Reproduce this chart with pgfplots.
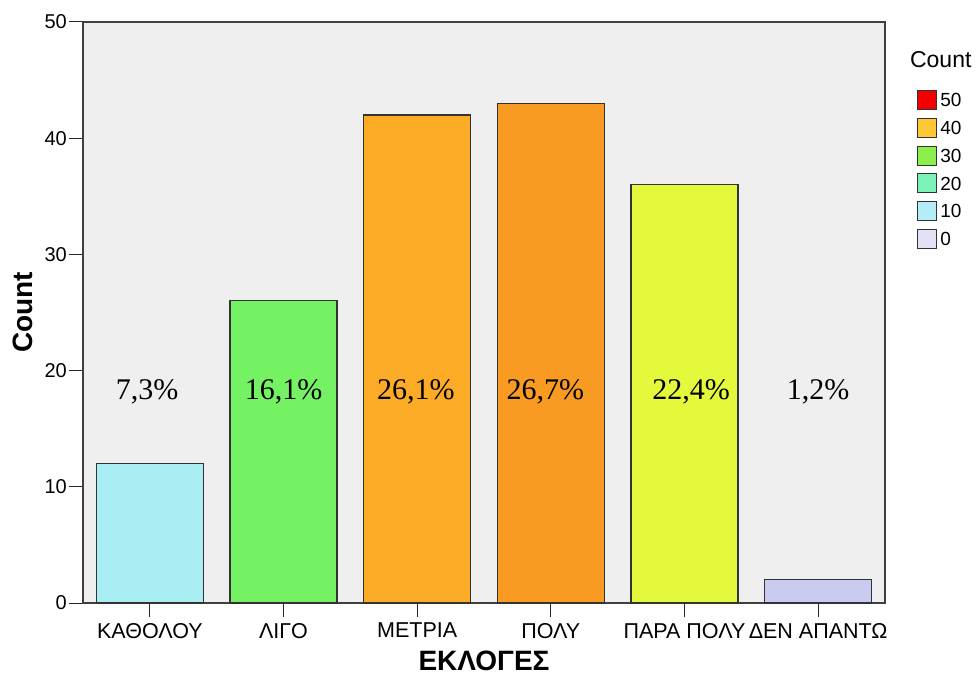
\documentclass[border=0pt]{standalone}
\usepackage{fontspec}
\setmainfont{Liberation Sans}
\newfontfamily\seriffont{Liberation Serif}
\usepackage{pgfplots}
\pgfplotsset{compat=1.18}
\definecolor{bgc}{HTML}{EFEFEF}
\definecolor{cA}{HTML}{A8EEF3}
\definecolor{cB}{HTML}{74F264}
\definecolor{cC}{HTML}{FBAB26}
\definecolor{cD}{HTML}{F99A22}
\definecolor{cE}{HTML}{E4F83C}
\definecolor{cF}{HTML}{C9CCF0}
\definecolor{l50}{HTML}{F20000}
\definecolor{l40}{HTML}{FFC832}
\definecolor{l30}{HTML}{8CF04C}
\definecolor{l20}{HTML}{7CF2B8}
\definecolor{l10}{HTML}{B4ECF8}
\definecolor{l0}{HTML}{E2E2F6}
\begin{document}
\begin{tikzpicture}
\begin{axis}[
  scale only axis, width=802bp, height=581bp,
  xmin=-0.5, xmax=5.5, ymin=0, ymax=50,
  axis background/.style={fill=bgc},
  xtick={0,...,5},
  xticklabels={ΚΑΘΟΛΟΥ,ΛΙΓΟ,ΜΕΤΡΙΑ,ΠΟΛΥ,ΠΑΡΑ ΠΟΛΥ,ΔΕΝ ΑΠΑΝΤΩ},
  ytick={0,10,...,50},
  tick align=outside, tick pos=left, major tick length=14bp,
  tick style={black!85, line width=1bp},
  axis line style={line width=1.5bp, black!75},
  yticklabel style={inner sep=2bp, font=\fontsize{20bp}{24bp}\selectfont},
  xticklabel style={inner sep=6bp, font=\fontsize{21.5bp}{24bp}\selectfont},
  /pgf/number format/assume math mode=true,
  ylabel={Count}, xlabel={ΕΚΛΟΓΕΣ},
  label style={font=\bfseries\fontsize{28bp}{32bp}\selectfont},
  xlabel style={at={(axis description cs:0.5,-0.1)}, anchor=center},
  ylabel style={at={(axis description cs:-0.075,0.5)}, anchor=center},
  ybar, bar width=0.8, bar shift=0pt,
  clip=false,
  legend image code/.code={\draw[#1, draw=black!80, line width=1bp] (0bp,-9.5bp) rectangle (19bp,9.5bp);},
  legend style={at={(rel axis cs:1.04,0.883)}, anchor=north west, draw=none, fill=none,
    inner sep=0pt, row sep=7.7bp,
    nodes={inner sep=0pt, font=\fontsize{19bp}{22bp}\selectfont, text height=13.5bp, text depth=0bp},
    column sep=3bp},
  legend cell align=left,
]
\coordinate (sw) at (rel axis cs:0,0);
\addplot[forget plot, fill=cA, draw=black!80, line width=1.2bp] coordinates {(0,12)};
\addplot[forget plot, fill=cB, draw=black!80, line width=1.2bp] coordinates {(1,26)};
\addplot[forget plot, fill=cC, draw=black!80, line width=1.2bp] coordinates {(2,42)};
\addplot[forget plot, fill=cD, draw=black!80, line width=1.2bp] coordinates {(3,43)};
\addplot[forget plot, fill=cE, draw=black!80, line width=1.2bp] coordinates {(4,36)};
\addplot[forget plot, fill=cF, draw=black!80, line width=1.2bp] coordinates {(5,2)};
\addplot[forget plot, draw=none, fill=none, nodes near coords={\pgfplotspointmeta\%},
  point meta=explicit symbolic,
  nodes near coords style={anchor=center, font=\seriffont\fontsize{30bp}{33bp}\selectfont, text=black}]
  table[meta=lab, row sep=\\] {
  x y lab\\
  -0.02 18.2 7,3\\
  1.0 18.2 16,1\\
  1.99 18.2 26,1\\
  2.96 18.2 26,7\\
  4.05 18.2 22,4\\
  5.0 18.2 1,2\\
};
\addlegendimage{fill=l50}\addlegendentry{50}
\addlegendimage{fill=l40}\addlegendentry{40}
\addlegendimage{fill=l30}\addlegendentry{30}
\addlegendimage{fill=l20}\addlegendentry{20}
\addlegendimage{fill=l10}\addlegendentry{10}
\addlegendimage{fill=l0}\addlegendentry{0}
\node[anchor=west, inner sep=0pt, font=\fontsize{23bp}{26bp}\selectfont] at (rel axis cs:1.031,0.9346) {Count};
\end{axis}
\pgfresetboundingbox
\path (sw) ++(-83bp,-74bp) rectangle ++(980bp,677bp);
\end{tikzpicture}
\end{document}
